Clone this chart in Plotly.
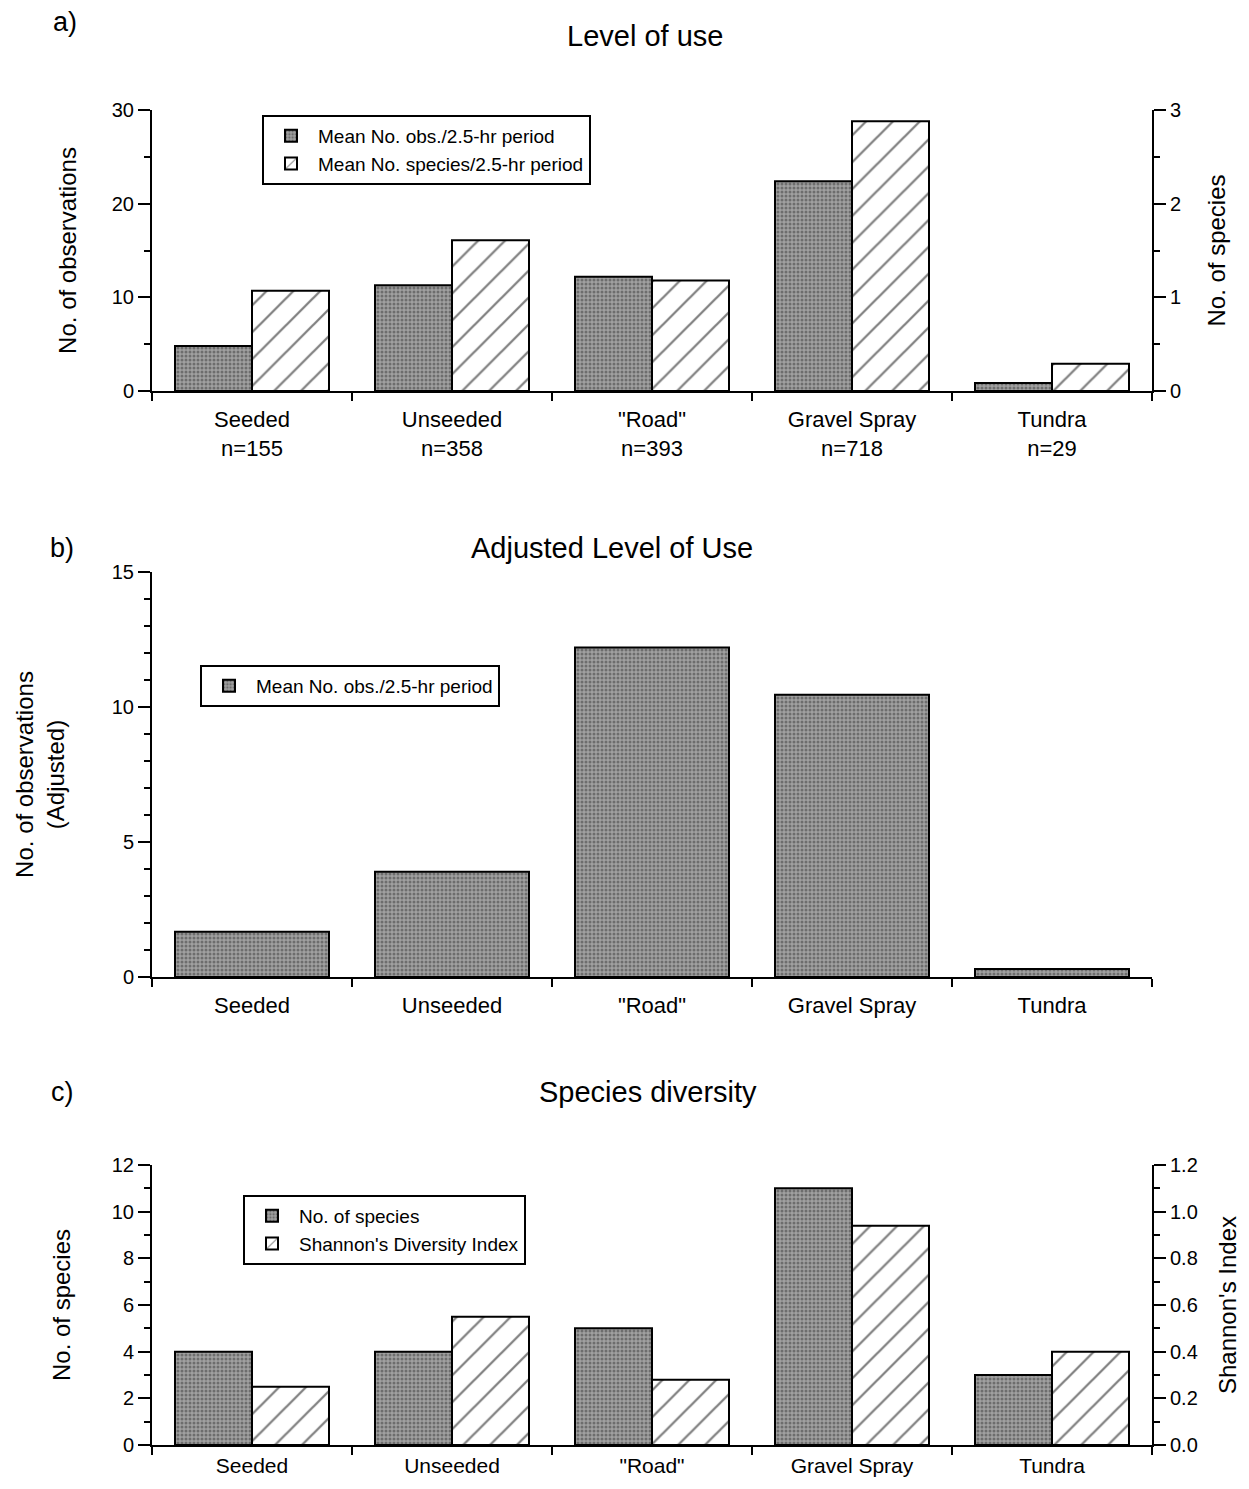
import plotly.graph_objects as go

# ---------------- data ----------------
categories = ["Seeded", "Unseeded", "\"Road\"", "Gravel Spray", "Tundra"]
n_counts = [155, 358, 393, 718, 29]

a_mean_obs = [4.8, 11.3, 12.2, 22.4, 0.85]          # left axis, No. of observations
a_mean_species = [1.07, 1.61, 1.18, 2.88, 0.29]     # right axis, No. of species

b_adjusted_obs = [1.68, 3.9, 12.2, 10.45, 0.3]

c_num_species = [4, 4, 5, 11, 3]                    # left axis
c_shannon = [0.25, 0.55, 0.28, 0.94, 0.40]          # right axis

a_labels = [f"{c}<br>n={n}" for c, n in zip(categories, n_counts)]

# ---------------- styling ----------------
OFF = 8                      # page body margin
W, H = 1249 - 2 * OFF, 1489 - 2 * OFF
FONT = "Liberation Sans, Arial, Helvetica, sans-serif"


def px_x(p):
    return (p - OFF) / W


def px_y(p):
    return 1 - (p - OFF) / H


gray_marker = dict(
    color="#8c8c8c",
    line=dict(color="black", width=2),
    pattern=dict(shape=".", fgcolor="#3a3a3a", bgcolor="#a0a0a0", size=4, solidity=0.45),
)
hatch_marker = dict(
    color="white",
    line=dict(color="black", width=2),
    pattern=dict(shape="/", fgcolor="black", bgcolor="white", size=19, solidity=0.12),
)

fig = go.Figure()

# panel a
fig.add_trace(go.Bar(x=a_labels, y=a_mean_obs, name="Mean No. obs./2.5-hr period",
                     marker=gray_marker, xaxis="x", yaxis="y", offsetgroup="a1",
                     legend="legend", legendgroup="a1"))
fig.add_trace(go.Bar(x=a_labels, y=a_mean_species, name="Mean No. species/2.5-hr period",
                     marker=hatch_marker, xaxis="x", yaxis="y2", offsetgroup="a2",
                     legend="legend", legendgroup="a2"))
# panel b
fig.add_trace(go.Bar(x=categories, y=b_adjusted_obs, name="Mean No. obs./2.5-hr period",
                     marker=gray_marker, xaxis="x2", yaxis="y3", offsetgroup="b1",
                     legend="legend2", legendgroup="b1"))
# panel c
fig.add_trace(go.Bar(x=categories, y=c_num_species, name="No. of species",
                     marker=gray_marker, xaxis="x3", yaxis="y4", offsetgroup="c1",
                     legend="legend3", legendgroup="c1"))
fig.add_trace(go.Bar(x=categories, y=c_shannon, name="Shannon's Diversity Index",
                     marker=hatch_marker, xaxis="x3", yaxis="y5", offsetgroup="c2",
                     legend="legend3", legendgroup="c2"))

xdom = [px_x(152), px_x(1152)]
dom_a = [px_y(391), px_y(110)]
dom_b = [px_y(977), px_y(572)]
dom_c = [px_y(1445), px_y(1165)]

axis_common = dict(showline=True, linecolor="black", linewidth=2, showgrid=False,
                   zeroline=False, ticks="outside", tickwidth=2, tickcolor="black",
                   automargin=False,
                   tickfont=dict(size=20, color="black", family=FONT))


def xax(anchor, fsize=22, standoff=8):
    d = dict(axis_common)
    d.update(domain=xdom, anchor=anchor, type="category", tickson="boundaries",
             ticklen=8, ticklabelstandoff=standoff,
             tickfont=dict(size=fsize, color="black", family=FONT))
    return d


def yax(domain, anchor, rng, dtick, minor, title, standoff, side="left", overlay=None):
    d = dict(axis_common)
    d.update(anchor=anchor, range=rng, dtick=dtick, tick0=0, ticklen=12, side=side,
             minor=dict(dtick=minor, ticklen=6, ticks="outside", tickwidth=2,
                        tickcolor="black", showgrid=False),
             title=dict(text=title, standoff=standoff,
                        font=dict(size=24, color="black", family=FONT)))
    if overlay:
        d["overlaying"] = overlay
    else:
        d["domain"] = domain
    return d


fig.update_layout(
    width=W, height=H,
    margin=dict(l=0, r=0, t=0, b=0, autoexpand=False),
    paper_bgcolor="white", plot_bgcolor="white",
    font=dict(family=FONT, color="black"),
    barmode="group", bargap=0.23, bargroupgap=0,
    xaxis=xax("y"),
    yaxis=yax(dom_a, "x", [0, 30], 10, 5, "No. of observations", 28),
    yaxis2=yax(None, "x", [0, 3], 1, 0.5, "No. of species", 28, side="right", overlay="y"),
    xaxis2=xax("y3"),
    yaxis3=yax(dom_b, "x2", [0, 15], 5, 1, "No. of observations<br>(Adjusted)", 40),
    xaxis3=xax("y4", fsize=21, standoff=1),
    yaxis4=yax(dom_c, "x3", [0, 12], 2, 1, "No. of species", 34),
    yaxis5=yax(None, "x3", [0, 1.2], 0.2, 0.1, "Shannon's Index", 28, side="right", overlay="y4"),
)
fig.layout.yaxis5.tickformat = ".1f"

leg_common = dict(bgcolor="white", bordercolor="black", borderwidth=2,
                  font=dict(size=19, color="black", family=FONT),
                  xanchor="left", yanchor="top", orientation="v", traceorder="normal",
                  tracegroupgap=8, itemwidth=44)
fig.update_layout(
    legend=dict(leg_common, x=px_x(262), y=px_y(115)),
    legend2=dict(leg_common, x=px_x(200), y=px_y(665)),
    legend3=dict(leg_common, x=px_x(243), y=px_y(1195)),
)

# panel labels and titles
annots = [
    ("a)", 65, 22, 27), ("Level of use", 645, 36, 29),
    ("b)", 62, 548, 27), ("Adjusted Level of Use", 612, 548, 29),
    ("c)", 62, 1092, 27), ("Species diversity", 648, 1092, 29),
]
for text, x, y, size in annots:
    fig.add_annotation(text=text, x=px_x(x), y=px_y(y), xref="paper", yref="paper",
                       showarrow=False, xanchor="center", yanchor="middle",
                       font=dict(size=size, color="black", family=FONT))

fig.write_html("out.html")
